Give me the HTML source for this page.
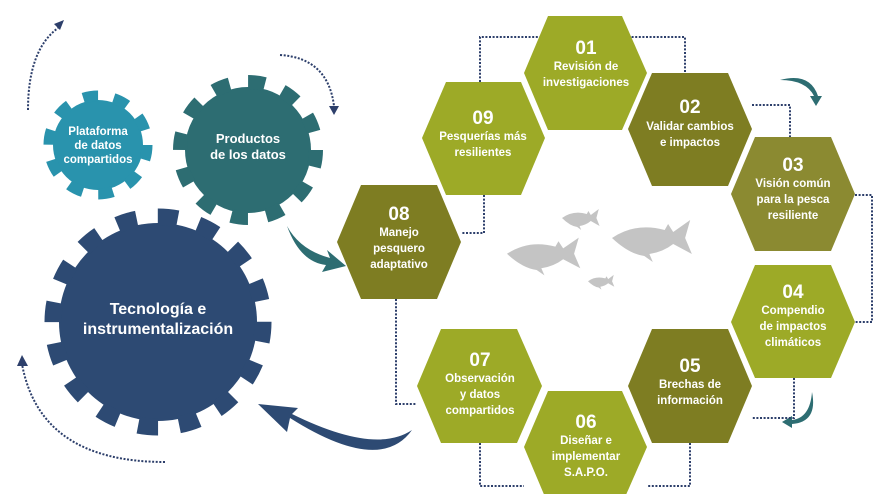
<!DOCTYPE html>
<html><head><meta charset="utf-8"><style>
html,body{margin:0;padding:0;background:#fff}
svg{display:block}
text{font-family:"Liberation Sans",sans-serif;font-weight:bold;fill:#fff;text-anchor:middle}
.n{font-size:19px}
.l{font-size:11.5px}
.d{fill:none;stroke:#2d3f6b;stroke-width:2;stroke-dasharray:2 1.6}
</style></head><body>
<svg width="879" height="494" viewBox="0 0 879 494" xmlns="http://www.w3.org/2000/svg">
<defs>
<path id="fish" d="M0,12 Q28,-4 62,4 L66,-2 L72,6 L92,-6 L86,12 L94,28 L72,18 Q60,26 44,28 L48,36 L38,30 Q20,28 0,12 Z" fill="#c4c4c4"/>
</defs>
<!-- gears -->
<g fill="#2993ad"><circle cx="98" cy="145" r="45"/><circle cx="98" cy="145" r="49" fill="none" stroke="#2993ad" stroke-width="11" stroke-dasharray="15 15.8"/></g>
<g fill="#2d6d72"><circle cx="248" cy="150" r="63"/><circle cx="248" cy="150" r="68" fill="none" stroke="#2d6d72" stroke-width="14" stroke-dasharray="17 18.6"/></g>
<g fill="#2d4a73"><circle cx="158" cy="322" r="99"/><circle cx="158" cy="322" r="105" fill="none" stroke="#2d4a73" stroke-width="17" stroke-dasharray="20 21.2"/></g>
<text class="l" x="98" y="135">Plataforma</text><text class="l" x="98" y="149">de datos</text><text class="l" x="98" y="163">compartidos</text>
<text x="248" y="143" style="font-size:13px">Productos</text><text x="248" y="159" style="font-size:13px">de los datos</text>
<text x="158" y="314" style="font-size:16px">Tecnología e</text><text x="158" y="334" style="font-size:16px">instrumentalización</text>
<!-- dotted arcs -->
<path class="d" d="M28,110 Q28,50 58,28"/><path d="M54,24 L64,20 L60,30 Z" fill="#2d3f6b"/>
<path class="d" d="M280,55 Q328,58 334,106"/><path d="M329,106 L339,106 L334,115 Z" fill="#2d3f6b"/>
<path class="d" d="M165,462 Q40,462 22,364"/><path d="M17,366 L22,355 L28,366 Z" fill="#2d3f6b"/>
<!-- big arrows -->
<path d="M287,226 Q300,250 330,258 L327,250 L346,266 L322,272 L326,265 Q300,262 287,226 Z" fill="#2d6d72"/>
<path d="M412,430 Q380,475 290,418 L287,432 L258,404 L298,408 L292,414 Q375,455 412,430 Z" fill="#2d4a73"/>
<path d="M780,80 Q810,72 818,96 L822,96 L816,106 L810,96 L814,96 Q806,80 780,80 Z" fill="#2d6d72"/>
<path d="M812,392 Q818,422 792,424 L792,428 L782,422 L792,416 L792,420 Q810,418 812,392 Z" fill="#2d6d72"/>
<!-- dotted connectors -->
<path class="d" d="M545,37 H480 V82"/>
<path class="d" d="M628,37 H685 V73"/>
<path class="d" d="M752,105 H790 V137"/>
<path class="d" d="M855,195 H872 V322 H855"/>
<path class="d" d="M794,378 V418 H752"/>
<path class="d" d="M690,443 V486 H647"/>
<path class="d" d="M480,443 V486 H524"/>
<path class="d" d="M396,299 V404 H417"/>
<path class="d" d="M484,195 V233 H461"/>
<!-- hexagons -->
<g>
<polygon fill="#9daa27" points="524,73 548,16 622,16 647,73 622,130 548,130"/>
<polygon fill="#7e7d22" points="628,129 652,73 728,73 752,129 728,186 652,186"/>
<polygon fill="#8b8a31" points="731,194 755,137 831,137 855,194 831,251 755,251"/>
<polygon fill="#9daa27" points="731,322 755,265 831,265 855,322 831,378 755,378"/>
<polygon fill="#7e7d22" points="628,386 652,329 728,329 752,386 728,443 652,443"/>
<polygon fill="#9daa27" points="524,447 548,391 622,391 647,447 622,504 548,504"/>
<polygon fill="#9daa27" points="417,386 441,329 517,329 542,386 517,443 441,443"/>
<polygon fill="#7e7d22" points="337,242 361,185 437,185 461,242 437,299 361,299"/>
<polygon fill="#9daa27" points="422,138 446,82 521,82 545,138 521,195 446,195"/>
</g>
<text class="n" x="586" y="54">01</text><text class="l" x="586" y="70">Revisión de</text><text class="l" x="586" y="86">investigaciones</text>
<text class="n" x="690" y="113">02</text><text class="l" x="690" y="130">Validar cambios</text><text class="l" x="690" y="146">e impactos</text>
<text class="n" x="793" y="171">03</text><text class="l" x="793" y="187">Visión común</text><text class="l" x="793" y="203">para la pesca</text><text class="l" x="793" y="219">resiliente</text>
<text class="n" x="793" y="298">04</text><text class="l" x="793" y="314">Compendio</text><text class="l" x="793" y="330">de impactos</text><text class="l" x="793" y="346">climáticos</text>
<text class="n" x="690" y="372">05</text><text class="l" x="690" y="388">Brechas de</text><text class="l" x="690" y="404">información</text>
<text class="n" x="586" y="428">06</text><text class="l" x="586" y="444">Diseñar e</text><text class="l" x="586" y="460">implementar</text><text class="l" x="586" y="476">S.A.P.O.</text>
<text class="n" x="480" y="366">07</text><text class="l" x="480" y="382">Observación</text><text class="l" x="480" y="398">y datos</text><text class="l" x="480" y="414">compartidos</text>
<text class="n" x="399" y="220">08</text><text class="l" x="399" y="236">Manejo</text><text class="l" x="399" y="252">pesquero</text><text class="l" x="399" y="268">adaptativo</text>
<text class="n" x="483" y="124">09</text><text class="l" x="483" y="140">Pesquerías más</text><text class="l" x="483" y="156">resilientes</text>
<!-- fish -->
<use href="#fish" transform="translate(507,243) scale(0.78,0.9)"/>
<use href="#fish" transform="translate(612,226) scale(0.85,1)"/>
<use href="#fish" transform="translate(562,212) scale(0.4,0.5)"/>
<use href="#fish" transform="translate(588,277) scale(0.28,0.35)"/>
</svg>
</body></html>
